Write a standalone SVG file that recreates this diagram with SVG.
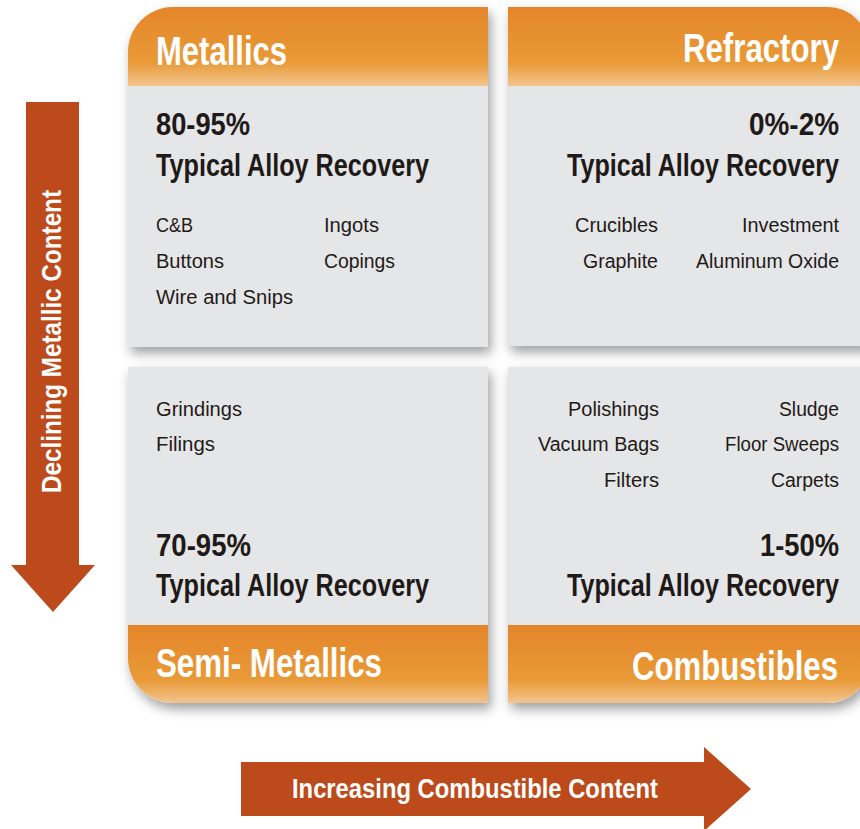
<svg xmlns="http://www.w3.org/2000/svg" width="860" height="829" viewBox="0 0 860 829">
<defs>
<linearGradient id="hdr" x1="0" y1="0" x2="0" y2="1">
<stop offset="0" stop-color="#e4852a"/>
<stop offset="0.7" stop-color="#e99a36"/>
<stop offset="1" stop-color="#f3c48e"/>
</linearGradient>
<filter id="sh" x="-10%" y="-10%" width="125%" height="125%">
<feDropShadow dx="3" dy="6" stdDeviation="6" flood-color="#000" flood-opacity="0.38"/>
</filter>
<style>
.panel{fill:#e5e6e8}
.hd{font-family:"Liberation Sans",Arial,sans-serif;font-weight:bold;fill:#fff;font-size:41px}
.big{font-family:"Liberation Sans",Arial,sans-serif;font-weight:bold;fill:#1f1a17;font-size:31px}
.it{font-family:"Liberation Sans",Arial,sans-serif;fill:#1f1a17;font-size:21px}
.ar{fill:#bd4a1a}
.at{font-family:"Liberation Sans",Arial,sans-serif;font-weight:bold;fill:#fff;font-size:28px}
</style>
</defs>
<rect width="860" height="829" fill="#fff"/>

<g id="connectors">
<g id="arrow-down">
<path class="ar" d="M26,102 H79 V565 H95 L53,612 L11,565 H26 Z"/>
<text class="at" x="0" y="0" text-anchor="middle" transform="translate(61 341.5) rotate(-90) scale(0.8 1)" textLength="378.75" lengthAdjust="spacingAndGlyphs">Declining Metallic Content</text>
</g>
<g id="arrow-right">
<path class="ar" d="M241,762 H704 V747 L751,789 L704,831 V816 H241 Z"/>
<text class="at" transform="translate(292 798) scale(0.8 1)" textLength="457.5" lengthAdjust="spacingAndGlyphs">Increasing Combustible Content</text>
</g>
</g>

<g id="metallics">
<path class="panel" filter="url(#sh)" d="M173,7 H488 V347 H128 V52 A45,45 0 0 1 173,7 Z"/>
<path fill="url(#hdr)" d="M173,7 H488 V86 H128 V52 A45,45 0 0 1 173,7 Z"/>
<text class="hd" transform="translate(156 65) scale(0.8 1)" textLength="163.75" lengthAdjust="spacingAndGlyphs">Metallics</text>
<text class="big" transform="translate(156 135) scale(0.8 1)" textLength="117.5" lengthAdjust="spacingAndGlyphs">80-95%</text>
<text class="big" transform="translate(156 176) scale(0.8 1)" textLength="341.25" lengthAdjust="spacingAndGlyphs">Typical Alloy Recovery</text>
<text class="it" transform="translate(156 232) scale(0.8 1)" textLength="46.25" lengthAdjust="spacingAndGlyphs">C&amp;B</text>
<text class="it" transform="translate(324 232) scale(0.8 1)" textLength="68.75" lengthAdjust="spacingAndGlyphs">Ingots</text>
<text class="it" transform="translate(156 268) scale(0.8 1)" textLength="85" lengthAdjust="spacingAndGlyphs">Buttons</text>
<text class="it" transform="translate(324 268) scale(0.8 1)" textLength="88.75" lengthAdjust="spacingAndGlyphs">Copings</text>
<text class="it" transform="translate(156 304) scale(0.8 1)" textLength="171.25" lengthAdjust="spacingAndGlyphs">Wire and Snips</text>
</g>

<g id="refractory">
<path class="panel" filter="url(#sh)" d="M508,7 H828 A40,40 0 0 1 868,47 V346 H508 Z"/>
<path fill="url(#hdr)" d="M508,7 H828 A40,40 0 0 1 868,47 V86 H508 Z"/>
<text class="hd" transform="translate(683 62) scale(0.8 1)" textLength="195" lengthAdjust="spacingAndGlyphs">Refractory</text>
<text class="big" transform="translate(749 135) scale(0.8 1)" textLength="112.5" lengthAdjust="spacingAndGlyphs">0%-2%</text>
<text class="big" transform="translate(567 176) scale(0.8 1)" textLength="340" lengthAdjust="spacingAndGlyphs">Typical Alloy Recovery</text>
<text class="it" transform="translate(575 232) scale(0.8 1)" textLength="103.75" lengthAdjust="spacingAndGlyphs">Crucibles</text>
<text class="it" transform="translate(742 232) scale(0.8 1)" textLength="121.25" lengthAdjust="spacingAndGlyphs">Investment</text>
<text class="it" transform="translate(583 268) scale(0.8 1)" textLength="93.75" lengthAdjust="spacingAndGlyphs">Graphite</text>
<text class="it" transform="translate(696 268) scale(0.8 1)" textLength="178.75" lengthAdjust="spacingAndGlyphs">Aluminum Oxide</text>
</g>

<g id="semi-metallics">
<path class="panel" filter="url(#sh)" d="M128,367 H488 V703 H173 A45,45 0 0 1 128,658 Z"/>
<path fill="url(#hdr)" d="M128,625 H488 V703 H173 A45,45 0 0 1 128,658 Z"/>
<text class="it" transform="translate(156 416) scale(0.8 1)" textLength="107.5" lengthAdjust="spacingAndGlyphs">Grindings</text>
<text class="it" transform="translate(156 451) scale(0.8 1)" textLength="73.75" lengthAdjust="spacingAndGlyphs">Filings</text>
<text class="big" transform="translate(156 556) scale(0.8 1)" textLength="118.75" lengthAdjust="spacingAndGlyphs">70-95%</text>
<text class="big" transform="translate(156 596) scale(0.8 1)" textLength="341.25" lengthAdjust="spacingAndGlyphs">Typical Alloy Recovery</text>
<text class="hd" transform="translate(156 677) scale(0.8 1)" textLength="282.5" lengthAdjust="spacingAndGlyphs">Semi- Metallics</text>
</g>

<g id="combustibles">
<path class="panel" filter="url(#sh)" d="M508,367 H868 V663 A40,40 0 0 1 828,703 H508 Z"/>
<path fill="url(#hdr)" d="M508,625 H868 V663 A40,40 0 0 1 828,703 H508 Z"/>
<text class="it" transform="translate(568 416) scale(0.8 1)" textLength="113.75" lengthAdjust="spacingAndGlyphs">Polishings</text>
<text class="it" transform="translate(779 416) scale(0.8 1)" textLength="75" lengthAdjust="spacingAndGlyphs">Sludge</text>
<text class="it" transform="translate(538 451) scale(0.8 1)" textLength="151.25" lengthAdjust="spacingAndGlyphs">Vacuum Bags</text>
<text class="it" transform="translate(725 451) scale(0.8 1)" textLength="142.5" lengthAdjust="spacingAndGlyphs">Floor Sweeps</text>
<text class="it" transform="translate(604 487) scale(0.8 1)" textLength="68.75" lengthAdjust="spacingAndGlyphs">Filters</text>
<text class="it" transform="translate(771 487) scale(0.8 1)" textLength="85" lengthAdjust="spacingAndGlyphs">Carpets</text>
<text class="big" transform="translate(760 556) scale(0.8 1)" textLength="98.75" lengthAdjust="spacingAndGlyphs">1-50%</text>
<text class="big" transform="translate(567 596) scale(0.8 1)" textLength="340" lengthAdjust="spacingAndGlyphs">Typical Alloy Recovery</text>
<text class="hd" transform="translate(632 680) scale(0.8 1)" textLength="257.5" lengthAdjust="spacingAndGlyphs">Combustibles</text>
</g>
</svg>
